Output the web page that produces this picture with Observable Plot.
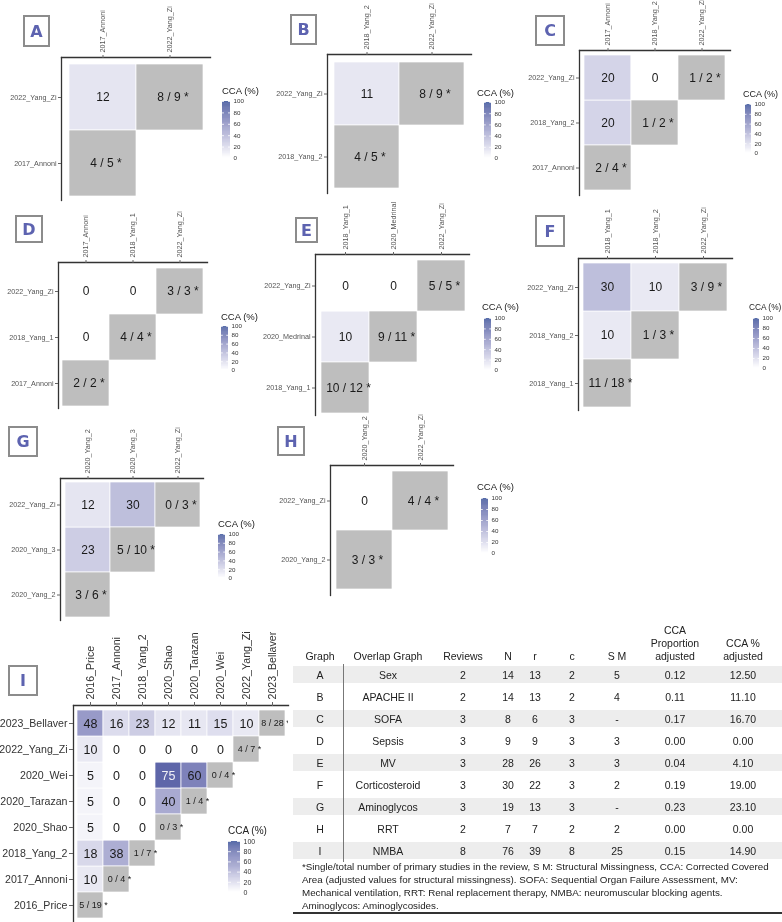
<!DOCTYPE html>
<html><head><meta charset="utf-8">
<script src="https://cdn.jsdelivr.net/npm/d3@7"></script>
<script src="https://cdn.jsdelivr.net/npm/@observablehq/plot@0.6"></script>
<style>
body{margin:0;background:#fff;}
#root{position:relative;width:782px;height:922px;overflow:hidden;font-family:"Liberation Sans",Arial,Helvetica,sans-serif;color:#222;}
#root svg{position:absolute;will-change:transform;}
.tag{position:absolute;border:2px solid #8c8c8c;box-sizing:border-box;color:#5d63b0;font-weight:bold;font-size:16px;display:flex;align-items:center;justify-content:center;font-family:"DejaVu Sans","Liberation Sans",sans-serif;}
.lgt{position:absolute;white-space:nowrap;color:#222;will-change:transform;}
.tc{position:absolute;text-align:center;white-space:nowrap;font-size:10.5px;line-height:13px;color:#222;will-change:transform;}
.row{position:absolute;left:293px;width:489px;}
</style></head>
<body><div id="root"></div>
<script>
// ---------------- DATA ----------------
// Panel A
const studiesA = ["2017_Annoni", "2022_Yang_Zi"];
const ccaA = [[12]];
const diagA = ["4 / 5", "8 / 9"];
// Panel B
const studiesB = ["2018_Yang_2", "2022_Yang_Zi"];
const ccaB = [[11]];
const diagB = ["4 / 5", "8 / 9"];
// Panel C
const studiesC = ["2017_Annoni", "2018_Yang_2", "2022_Yang_Zi"];
const ccaC = [[20], [20, 0]];
const diagC = ["2 / 4", "1 / 2", "1 / 2"];
// Panel D
const studiesD = ["2017_Annoni", "2018_Yang_1", "2022_Yang_Zi"];
const ccaD = [[0], [0, 0]];
const diagD = ["2 / 2", "4 / 4", "3 / 3"];
// Panel E
const studiesE = ["2018_Yang_1", "2020_Medrinal", "2022_Yang_Zi"];
const ccaE = [[10], [0, 0]];
const diagE = ["10 / 12", "9 / 11", "5 / 5"];
// Panel F
const studiesF = ["2018_Yang_1", "2018_Yang_2", "2022_Yang_Zi"];
const ccaF = [[10], [30, 10]];
const diagF = ["11 / 18", "1 / 3", "3 / 9"];
// Panel G
const studiesG = ["2020_Yang_2", "2020_Yang_3", "2022_Yang_Zi"];
const ccaG = [[23], [12, 30]];
const diagG = ["3 / 6", "5 / 10", "0 / 3"];
// Panel H
const studiesH = ["2020_Yang_2", "2022_Yang_Zi"];
const ccaH = [[0]];
const diagH = ["3 / 3", "4 / 4"];
// Panel I
const studiesI = ["2016_Price", "2017_Annoni", "2018_Yang_2", "2020_Shao", "2020_Tarazan", "2020_Wei", "2022_Yang_Zi", "2023_Bellaver"];
const ccaI = [
  [10],
  [18, 38],
  [5, 0, 0],
  [5, 0, 0, 40],
  [5, 0, 0, 75, 60],
  [10, 0, 0, 0, 0, 0],
  [48, 16, 23, 12, 11, 15, 10]
];
const diagI = ["5 / 19", "0 / 4", "1 / 7", "0 / 3", "1 / 4", "0 / 4", "4 / 7", "8 / 28"];

const legendTitle = "CCA (%)";
const legendTicks = [0, 20, 40, 60, 80, 100];

// Table
const tblHeaders = ["Graph", "Overlap Graph", "Reviews", "N", "r", "c", "S M", "CCA<br>Proportion<br>adjusted", "CCA %<br>adjusted"];
const tblGraph = ["A", "B", "C", "D", "E", "F", "G", "H", "I"];
const tblOverlap = ["Sex", "APACHE II", "SOFA", "Sepsis", "MV", "Corticosteroid", "Aminoglycos", "RRT", "NMBA"];
const tblReviews = [2, 2, 3, 3, 3, 3, 3, 2, 8];
const tblN = [14, 14, 8, 9, 28, 30, 19, 7, 76];
const tblR = [13, 13, 6, 9, 26, 22, 13, 7, 39];
const tblC = [2, 2, 3, 3, 3, 3, 3, 2, 8];
const tblSM = ["5", "4", "-", "3", "3", "2", "-", "2", "25"];
const tblProp = ["0.12", "0.11", "0.17", "0.00", "0.04", "0.19", "0.23", "0.00", "0.15"];
const tblPct = ["12.50", "11.10", "16.70", "0.00", "4.10", "19.00", "23.10", "0.00", "14.90"];
const footnoteLines = [
  "*Single/total number of primary studies in the review, S M: Structural Missingness, CCA: Corrected Covered",
  "Area (adjusted values for structural missingness). SOFA: Sequential Organ Failure Assessment, MV:",
  "Mechanical ventilation, RRT: Renal replacement therapy, NMBA: neuromuscular blocking agents.",
  "Aminoglycos: Aminoglycosides."
];

// ---------------- LAYOUT / STYLE ----------------
const FONT = '"Liberation Sans", Arial, Helvetica, sans-serif';
const HIGH = "#1b3a8c";
const GRAY = "#bebebe";
const colorScale = {type: "linear", domain: [0, 100], range: ["#ffffff", HIGH], interpolate: "lab"};

const panels = [
  {tag: "A", studies: studiesA, cca: ccaA, diag: diagA, frame: [61, 57, 210, 200], inset: [7, 7, 6, 4], box: [23, 15, 50, 47],
   legend: {tx: 222, ty: 91, tfs: 9.5, bx: 222, y0: 101, y1: 158, w: 8}},
  {tag: "B", studies: studiesB, cca: ccaB, diag: diagB, frame: [327, 54, 471, 193], inset: [6, 7, 7, 5], box: [290, 14, 317, 45],
   legend: {tx: 477, ty: 93, tfs: 9.5, bx: 484, y0: 102, y1: 158, w: 7}},
  {tag: "C", studies: studiesC, cca: ccaC, diag: diagC, frame: [579, 50, 730, 195], inset: [4, 4, 4, 4], box: [535, 15, 565, 46],
   legend: {tx: 743, ty: 94, tfs: 9, bx: 745, y0: 104, y1: 153, w: 6}},
  {tag: "D", studies: studiesD, cca: ccaD, diag: diagD, frame: [58, 262, 207, 408], inset: [4, 4, 5, 2], box: [15, 215, 43, 243],
   legend: {tx: 221, ty: 317, tfs: 9.5, bx: 221, y0: 326, y1: 370, w: 7}},
  {tag: "E", studies: studiesE, cca: ccaE, diag: diagE, frame: [315, 254, 469, 415], inset: [5, 4, 6, 2], box: [295, 217, 318, 243],
   legend: {tx: 482, ty: 307, tfs: 9.5, bx: 484, y0: 318, y1: 370, w: 7}},
  {tag: "F", studies: studiesF, cca: ccaF, diag: diagF, frame: [578, 258, 732, 410], inset: [4, 5, 5, 3], box: [535, 215, 565, 247],
   legend: {tx: 749, ty: 307, tfs: 8.3, bx: 753, y0: 318, y1: 368, w: 6}},
  {tag: "G", studies: studiesG, cca: ccaG, diag: diagG, frame: [60, 478, 203, 620], inset: [4, 3, 4, 3], box: [8, 426, 38, 457],
   legend: {tx: 218, ty: 524, tfs: 9.5, bx: 218, y0: 534, y1: 578, w: 7}},
  {tag: "H", studies: studiesH, cca: ccaH, diag: diagH, frame: [330, 465, 453, 595], inset: [6, 5, 6, 6], box: [277, 426, 305, 456],
   legend: {tx: 477, ty: 487, tfs: 9.5, bx: 481, y0: 498, y1: 553, w: 7}},
  {tag: "I", studies: studiesI, cca: ccaI, diag: diagI, frame: [73, 705, 288, 922], inset: [2, 1, 3, 3], box: [8, 665, 38, 696], big: true,
   legend: {tx: 228, ty: 831, tfs: 10, bx: 228, y0: 841, y1: 892, w: 12, big: true}}
];

const root = document.getElementById("root");

function buildCells(studies, cca, diag) {
  const out = [];
  studies.forEach((s, i) => out.push({col: s, row: s, diag: true, label: diag[i]}));
  cca.forEach((vals, k) => {
    const row = studies[k + 1];
    vals.forEach((v, i) => out.push({col: studies[i], row, diag: false, v}));
  });
  return out;
}

function drawPanel(p) {
  const [L, T, R, B] = p.frame;
  const [il, ir, it, ib] = p.inset;
  const mL = p.big ? 80 : 62, mT = p.big ? 76 : 56, mR = 2, mB = 2;
  const data = buildCells(p.studies, p.cca, p.diag);
  const off = data.filter(d => !d.diag);
  const dg = data.filter(d => d.diag);
  const numSize = p.big ? 12.5 : 12;
  const diagSize = p.big ? 9 : 12;
  const tickFont = p.big ? 10.6 : 7.2;
  const axColor = p.big ? "#333" : "#555";
  const svg = Plot.plot({
    width: R - L + mL + mR, height: B - T + mT + mB,
    marginLeft: mL, marginTop: mT, marginRight: mR, marginBottom: mB,
    style: {fontFamily: FONT, background: "transparent", overflow: "visible"},
    x: {domain: p.studies, padding: 0, insetLeft: il, insetRight: ir, label: null},
    y: {domain: p.studies.slice().reverse(), padding: 0, insetTop: it, insetBottom: ib, label: null},
    color: colorScale,
    marks: [
      Plot.cell(off, {x: "col", y: "row", fill: "v", stroke: "white", strokeWidth: 0.7}),
      Plot.cell(dg, {x: "col", y: "row", fill: GRAY, stroke: "white", strokeWidth: 0.7}),
      Plot.text(off.filter(d => d.v < 70), {x: "col", y: "row", text: d => String(d.v), fontSize: numSize, fill: "#1a1a1a"}),
      Plot.text(off.filter(d => d.v >= 70), {x: "col", y: "row", text: d => String(d.v), fontSize: numSize, fill: "#f0f0f6"}),
      Plot.text(dg, {x: "col", y: "row", text: d => d.label + " *", dx: 3, fontSize: diagSize, fill: "#1a1a1a", clip: true}),
      Plot.frame({anchor: "left", stroke: "#333", strokeWidth: 1.3}),
      Plot.frame({anchor: "top", stroke: "#333", strokeWidth: 1.3}),
      Plot.axisX({anchor: "top", tickRotate: -90, tickSize: p.big ? 4 : 3, tickPadding: 2, fontSize: tickFont, fill: axColor, stroke: "#666", label: null}),
      Plot.axisY({anchor: "left", tickSize: p.big ? 4 : 3, tickPadding: 2, fontSize: tickFont, fill: axColor, stroke: "#666", label: null})
    ]
  });
  svg.style.left = (L - mL) + "px";
  svg.style.top = (T - mT) + "px";
  root.appendChild(svg);

  // tag box
  const [x0, y0, x1, y1] = p.box;
  const tag = document.createElement("div");
  tag.className = "tag";
  tag.style.left = x0 + "px"; tag.style.top = y0 + "px";
  tag.style.width = (x1 - x0) + "px"; tag.style.height = (y1 - y0) + "px";
  tag.textContent = p.tag;
  root.appendChild(tag);

  drawLegend(p.legend);
}

function drawLegend(lg) {
  const m = 6, h = lg.y1 - lg.y0;
  const fs = lg.big ? 7 : 6.2;
  const svg = Plot.plot({
    width: lg.w + 30, height: h + 2 * m,
    marginLeft: 0, marginRight: 30, marginTop: m, marginBottom: m,
    style: {fontFamily: FONT, background: "transparent", overflow: "visible"},
    y: {domain: [0, 100], label: null},
    color: colorScale,
    marks: [
      Plot.rect(d3.range(0, 100, 1), {y1: d => d, y2: d => d + 1, fill: d => d}),
      Plot.tickY(legendTicks, {y: d => d, stroke: "white", strokeWidth: 0.8, insetRight: lg.w * 0.75}),
      Plot.tickY(legendTicks, {y: d => d, stroke: "white", strokeWidth: 0.8, insetLeft: lg.w * 0.75}),
      Plot.axisY({anchor: "right", ticks: legendTicks, tickSize: 0, tickPadding: 3, fontSize: fs, fill: "#333", label: null})
    ]
  });
  svg.style.left = lg.bx + "px";
  svg.style.top = (lg.y0 - m) + "px";
  root.appendChild(svg);
  const t = document.createElement("div");
  t.className = "lgt";
  t.style.fontSize = lg.tfs + "px";
  t.style.left = lg.tx + "px";
  t.style.top = (lg.ty - lg.tfs * 0.6) + "px";
  t.textContent = legendTitle;
  root.appendChild(t);
}

panels.forEach(drawPanel);

// ---------------- TABLE ----------------
const colX = [320, 388, 463, 508, 535, 572, 617, 675, 743];
const headerBottom = 664, row0 = 663, rowH = 22;
function addText(html, cx, top) {
  const d = document.createElement("div");
  d.className = "tc";
  d.style.left = (cx - 50) + "px";
  d.style.width = "100px";
  d.style.top = top + "px";
  d.innerHTML = html;
  root.appendChild(d);
  return d;
}
// header (bottom-aligned)
tblHeaders.forEach((h, i) => {
  const lines = h.split("<br>").length;
  addText(h, colX[i], headerBottom - 1 - lines * 13);
});
// rows
const tblCols = [tblGraph, tblOverlap, tblReviews, tblN, tblR, tblC, tblSM, tblProp, tblPct];
tblGraph.forEach((g, k) => {
  const top = row0 + k * rowH;
  if (k % 2 === 0) {
    const bg = document.createElement("div");
    bg.className = "row";
    bg.style.top = (top + 3) + "px";
    bg.style.height = (rowH - 5) + "px";
    bg.style.background = "#ededed";
    root.appendChild(bg);
  }
  tblCols.forEach((col, i) => addText(String(col[k]), colX[i], top + (rowH - 13) / 2 + 1));
});
// lines
const vl = document.createElement("div");
Object.assign(vl.style, {position: "absolute", left: "343px", width: "1px", top: headerBottom + "px", height: (9 * rowH) + "px", background: "#777"});
root.appendChild(vl);
const fn = document.createElement("div");
Object.assign(fn.style, {position: "absolute", left: "302px", top: (row0 + 9 * rowH - 1) + "px", fontSize: "9.8px", lineHeight: "13px", whiteSpace: "nowrap", color: "#222", willChange: "transform"});
fn.innerHTML = footnoteLines.join("<br>");
root.appendChild(fn);
const bl = document.createElement("div");
Object.assign(bl.style, {position: "absolute", left: "293px", width: "489px", top: "912px", height: "2px", background: "#333"});
root.appendChild(bl);
</script>
</body></html>
